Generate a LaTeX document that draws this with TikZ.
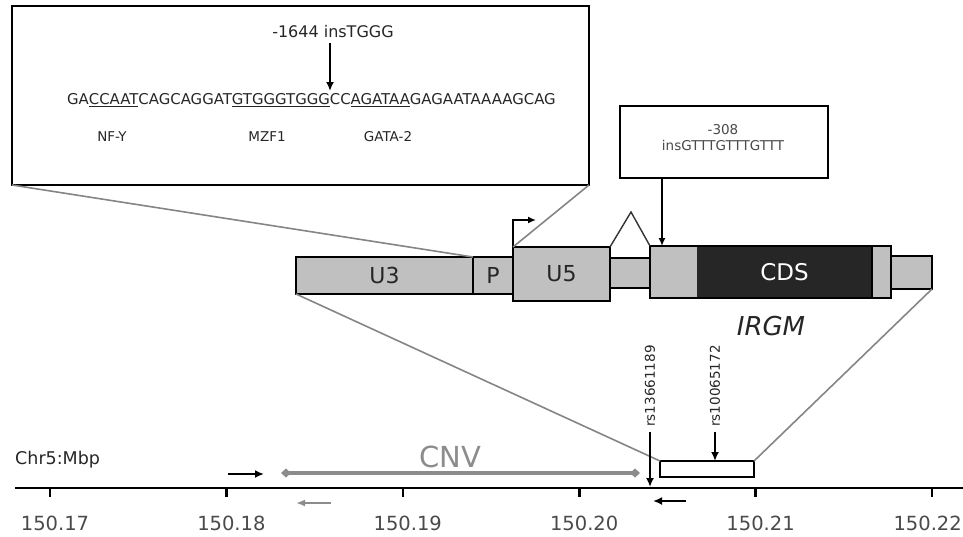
\documentclass[tikz,border=0pt]{standalone}
\usepackage{fontspec}
\setmainfont{DejaVu Sans}
\usetikzlibrary{arrows.meta}
\definecolor{boxgrey}{HTML}{C0C0C0}
\definecolor{cdsblack}{HTML}{262626}
\definecolor{zoomgrey}{HTML}{858585}
\definecolor{txt}{HTML}{262626}
\definecolor{lighttxt}{HTML}{4A4A4A}
\definecolor{cnvgrey}{HTML}{8C8C8C}
\newcommand{\fs}[1]{\fontsize{#1}{#1}\selectfont}
\newcommand{\myul}[1]{\setbox0\hbox{#1}\rlap{\rule[-3.2pt]{\wd0}{1.3pt}}\box0}
\begin{document}
\begin{tikzpicture}[x=1pt,y=-1pt,
  seg/.style={draw=black, line width=2.3pt, fill=boxgrey, inner sep=0pt, outer sep=0pt, anchor=north west, text=txt, font=\fs{22}},
  frame/.style={draw=black, line width=2.6pt, fill=white, inner sep=0pt, outer sep=0pt, anchor=north west},
  zoomline/.style={draw=zoomgrey, line width=1.6pt},
  blackarrow/.style={draw=black, line width=2.4pt, -{Latex[length=9pt,width=8pt]}},
  greyarrow/.style={draw=cnvgrey, line width=2.4pt, -{Latex[length=9pt,width=7pt]}},
  ticklabel/.style={text=lighttxt, font=\fs{19.5}, inner sep=0pt},
  rslabel/.style={text=txt, font=\fs{13.5}, rotate=90, inner sep=0pt},
  tflabel/.style={text=txt, font=\fs{13.5}, inner sep=0pt}
]
\useasboundingbox (0,0) rectangle (963,536);

% ---------- zoom box with promoter sequence ----------
\node[frame, minimum width=577pt, minimum height=179pt] (zbox) at (12,6) {};
\node[text=txt, font=\fs{16}, inner sep=0pt] (l1644) at (333,32) {-1644 insTGGG};
\node[anchor=base west, text=txt, font=\fs{14.9}, inner sep=0pt] (seq) at (67,104)
  {GA\myul{CCAAT}CAGCAGGAT\myul{GTGGGTGGG}CC\myul{AGATAA}GAGAATAAAAGCAG};
\coordinate (ins1644) at (330,91);
\draw[blackarrow] (l1644.south -| ins1644) ++(0,5) -- (ins1644);
\node[tflabel] (nfy) at (112,137) {NF-Y};
\node[tflabel] (mzf) at (267,137) {MZF1};
\node[tflabel] (gata) at (388,137) {GATA-2};

% ---------- -308 box ----------
\node[frame, line width=2.4pt, minimum width=208pt, minimum height=72pt] (b308) at (620,106) {};
\node[text=lighttxt, font=\fs{13.5}, align=center, inner sep=0pt] (t308) at (723,137.5) {-308\\[3pt]insGTTTGTTTGTTT};

% ---------- gene structure ----------
\node[seg, minimum width=177pt, minimum height=37pt] (u3) at (296,257) {U3};
\node[seg, minimum width=40pt, minimum height=37pt] (p) at (473,257) {P};
\node[seg, minimum width=40pt, minimum height=30pt] (s1) at (610,258) {};
\node[seg, minimum width=241pt, minimum height=52pt] (ex) at (650,246) {};
\node[anchor=north west, fill=cdsblack, inner sep=0pt, outer sep=0pt, minimum width=175pt, minimum height=52pt, text=white, font=\fs{23}] (cds) at (697,246) {CDS};
\draw[line width=2.3pt] (ex.north west) rectangle (ex.south east);
\draw[line width=2.3pt] (cds.north east) -- (cds.south east);
\node[seg, minimum width=97pt, minimum height=54pt] (u5) at (513,247) {U5};
\node[seg, minimum width=41pt, minimum height=33pt] (s2) at (891,256) {};
\node[text=txt, font=\fs{26}\itshape, inner sep=0pt] (irgm) at (771,326) {IRGM};

% transcription start
\coordinate (tss) at (536,220);
\draw[blackarrow, line width=2pt, -{Latex[length=8pt,width=7pt]}] (u5.north west) |- (tss);
% splice
\coordinate (apex) at (631,212);
\draw[line width=1.4pt, draw=black!80] (u5.north east) -- (apex) -- (ex.north west);
% -308 arrow
\coordinate (ins308) at (662,246);
\draw[blackarrow, line width=2pt, -{Latex[length=8pt,width=7pt]}] (ins308 |- b308.south) -- (ins308);

% ---------- chromosome axis ----------
\node[frame, line width=2.3pt, minimum width=94pt, minimum height=16pt] (wbox) at (660,461) {};

% zoom lines
\draw[zoomline] (zbox.south west) -- (u3.north east);
\draw[zoomline] (zbox.south east) -- (u5.north west);
\draw[zoomline] (u3.south west) -- (wbox.north west);
\draw[zoomline] (s2.south east) -- (wbox.north east);

\coordinate (axl) at (15,488);
\coordinate (axr) at (963,488);
\draw[line width=2.6pt] (axl) -- (axr);
\foreach \i/\lab in {0/150.17,1/150.18,2/150.19,3/150.20,4/150.21}{
  \pgfmathsetmacro{\tx}{50+176.4*\i}
  \draw[line width=2.6pt] (\tx,488) -- (\tx,497);
  \node[ticklabel] (tick\i) at (\tx+5,523) {\lab};
}
\draw[line width=2.6pt] (932,488) -- (932,497);
\node[ticklabel, anchor=east] (tick5) at (962,523) {150.22};
\node[text=txt, font=\fs{17.5}, anchor=west, inner sep=0pt] (chr) at (15,460) {Chr5:Mbp};

% primers / CNV
\coordinate (pr1a) at (228,474); \coordinate (pr1b) at (264,474);
\draw[blackarrow] (pr1a) -- (pr1b);
\coordinate (cnva) at (281,473); \coordinate (cnvb) at (640,473);
\draw[draw=cnvgrey, line width=3.2pt, {Diamond[length=10pt,width=9pt]}-{Diamond[length=10pt,width=9pt]}] (cnva) -- (cnvb);
\node[text=cnvgrey, font=\fs{29}, inner sep=0pt] (cnv) at (450,457) {CNV};
\coordinate (pr2a) at (331,503); \coordinate (pr2b) at (296,503);
\draw[greyarrow] (pr2a) -- (pr2b);
\coordinate (pr3a) at (686,501); \coordinate (pr3b) at (653,501);
\draw[blackarrow] (pr3a) -- (pr3b);

% SNPs
\node[rslabel] (rs1) at (650,386) {rs13661189};
\node[rslabel] (rs2) at (715,386) {rs10065172};
\coordinate (snp1) at (650,487);
\draw[blackarrow, line width=2pt] (rs1.west) ++(0,5) -- (snp1);
\draw[blackarrow, line width=2pt] (rs2.west) ++(0,5) -- (rs2.west |- wbox.north);
\end{tikzpicture}
\end{document}
